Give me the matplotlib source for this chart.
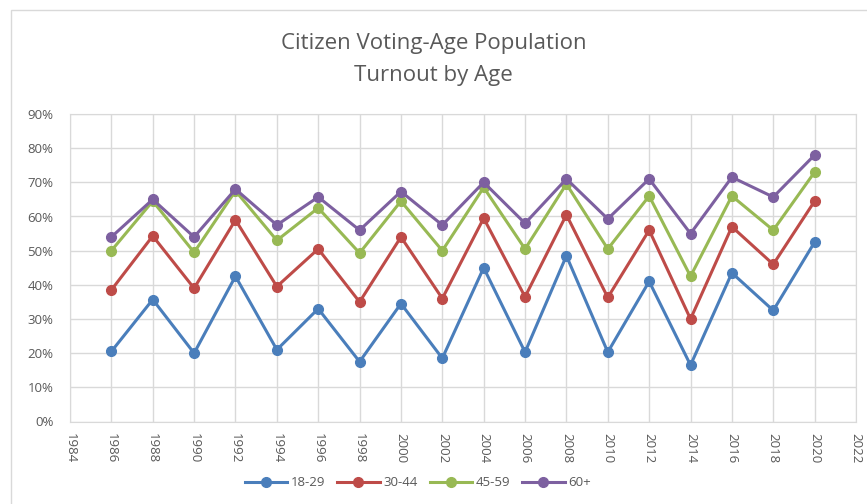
import matplotlib
matplotlib.use("Agg")
import matplotlib.pyplot as plt
from matplotlib.ticker import PercentFormatter, MultipleLocator
from matplotlib.patches import Rectangle

years = [1986, 1988, 1990, 1992, 1994, 1996, 1998, 2000, 2002, 2004,
         2006, 2008, 2010, 2012, 2014, 2016, 2018, 2020]
age_18_29 = [20.5, 35.7, 20.0, 42.5, 21.0, 33.0, 17.5, 34.5, 18.5, 45.0,
             20.3, 48.5, 20.3, 41.0, 16.5, 43.5, 32.5, 52.5]
age_30_44 = [38.5, 54.3, 39.0, 59.0, 39.5, 50.5, 35.0, 54.0, 36.0, 59.5,
             36.5, 60.5, 36.3, 56.0, 30.0, 57.0, 46.0, 64.5]
age_45_59 = [50.0, 64.5, 49.5, 67.5, 53.0, 62.5, 49.3, 64.5, 50.0, 68.5,
             50.5, 69.5, 50.5, 66.0, 42.5, 66.0, 56.0, 73.0]
age_60_plus = [54.0, 65.0, 54.0, 68.0, 57.5, 65.7, 56.0, 67.3, 57.5, 70.0,
               58.0, 71.0, 59.3, 71.0, 55.0, 71.5, 65.7, 78.0]
series_labels = ["18-29", "30-44", "45-59", "60+"]
colors = ["#4a7ebb", "#be4b48", "#98b954", "#7d60a0"]
x_ticks = list(range(1984, 2023, 2))

plt.rcParams['font.family'] = ['Open Sans', 'DejaVu Sans']
fig = plt.figure(figsize=(8.67, 5.04), dpi=100)
ax = fig.add_axes([70/867, (504-421.5)/504, (856-70)/867, (421.5-114)/504])

for vals, lab, c in zip([age_18_29, age_30_44, age_45_59, age_60_plus], series_labels, colors):
    ax.plot(years, vals, color=c, lw=2.2, marker='o', ms=7, label=lab, zorder=3)

ax.set_xlim(1984, 2022)
ax.set_ylim(0, 90)
ax.set_xticks(x_ticks)
ax.set_xticklabels([str(y) for y in x_ticks], rotation=-90)
ax.yaxis.set_major_locator(MultipleLocator(10))
ax.yaxis.set_major_formatter(PercentFormatter(decimals=0))
ax.grid(True, color="#d9d9d9", lw=1)
ax.set_axisbelow(True)
for s in ax.spines.values():
    s.set_color("#d9d9d9")
ax.tick_params(axis='y', length=0, colors="#595959", labelsize=9.5, pad=12)
ax.tick_params(axis='x', length=0, colors="#595959", labelsize=9.5, pad=8)

fig.text(0.5, 1 - 44/504, "Citizen Voting-Age Population", ha='center', va='center',
         fontsize=16, color="#595959")
fig.text(0.5, 1 - 76/504, "Turnout by Age", ha='center', va='center',
         fontsize=16, color="#595959")

fig.legend(loc='center', bbox_to_anchor=(418/867, 1-483/504), ncol=4, frameon=False,
           fontsize=9.5, labelcolor="#595959", handlelength=3.2, columnspacing=0.9,
           handletextpad=0.3)

fig.add_artist(Rectangle((11/867, -0.1), 1.0, 1 - 10/504 + 0.1, transform=fig.transFigure,
                         fill=False, edgecolor="#d9d9d9", lw=1))

fig.savefig("out.png", dpi=100)
